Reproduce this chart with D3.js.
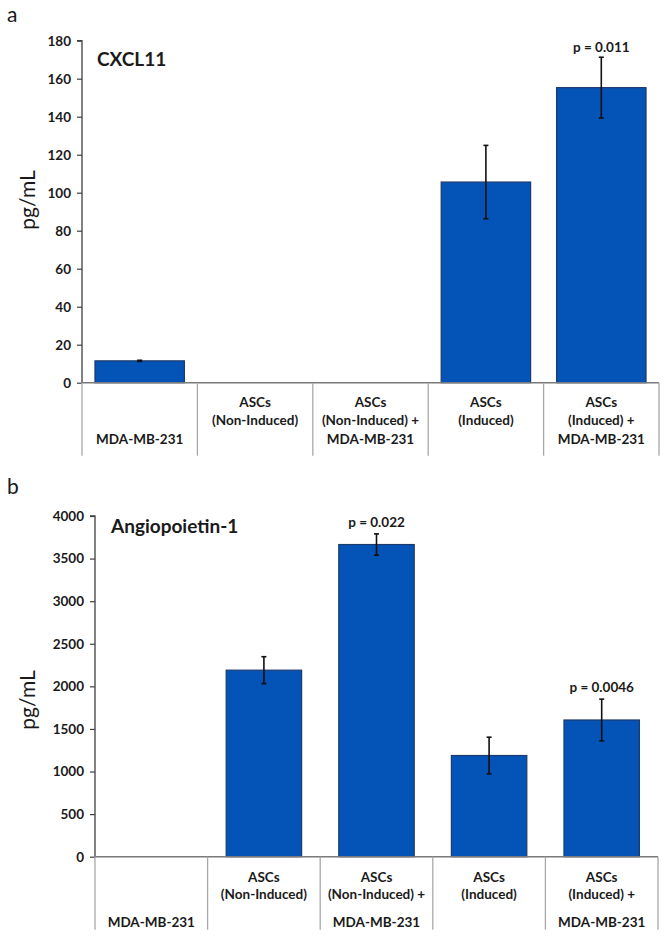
<!DOCTYPE html>
<html>
<head>
<meta charset="utf-8">
<script src="https://cdn.jsdelivr.net/npm/d3@7"></script>
<style>
  html, body { margin: 0; padding: 0; background: #fff; }
  svg { display: block; }
  text { font-family: Lato, "Open Sans", "Liberation Sans", sans-serif; fill: #1a1a1a; }
</style>
</head>
<body>
<svg id="chart" width="666" height="936"></svg>
<script>
// ---- Data ----
const categories = ["MDA-MB-231", "ASCs (Non-Induced)", "ASCs (Non-Induced) + MDA-MB-231", "ASCs (Induced)", "ASCs (Induced) + MDA-MB-231"];
const categoryLines = [
  ["", "", "MDA-MB-231"],
  ["ASCs", "(Non-Induced)", ""],
  ["ASCs", "(Non-Induced) +", "MDA-MB-231"],
  ["ASCs", "(Induced)", ""],
  ["ASCs", "(Induced) +", "MDA-MB-231"]
];
const cxcl11Values = [11.5, 0, 0, 105.6, 155.3];
const cxcl11Errors = [0.3, 0, 0, 19.3, 16];
const cxcl11PValues = ["", "", "", "", "p = 0.011"];
const cxcl11Ticks = [0, 20, 40, 60, 80, 100, 120, 140, 160, 180];

const angValues = [0, 2190, 3665, 1188, 1605];
const angErrors = [0, 158, 125, 215, 245];
const angPValues = ["", "", "p = 0.022", "", "p = 0.0046"];
const angTicks = [0, 500, 1000, 1500, 2000, 2500, 3000, 3500, 4000];

const svg = d3.select("#chart");
const barFill = "#0453b6";
const barStroke = "#1c3a6b";
const FS = 13.5;

function drawPanel(cfg) {
  const g = svg.append("g");
  const x = d3.scaleBand().domain(categories).range([cfg.left, cfg.right]).paddingInner(0).paddingOuter(0);
  const y = d3.scaleLinear().domain([0, cfg.max]).range([cfg.bottom, cfg.top]);
  const bw = x.bandwidth() * cfg.barRatio;

  // panel letter
  g.append("text").attr("x", 7).attr("y", cfg.letterY).attr("font-size", 21).text(cfg.letter);

  // bars
  const data = categories.map((c, i) => ({c, v: cfg.values[i], e: cfg.errors[i], p: cfg.pvals[i]}));
  g.selectAll("rect.bar").data(data.filter(d => d.v > 0)).join("rect")
    .attr("class", "bar")
    .attr("x", d => x(d.c) + (x.bandwidth() - bw) / 2)
    .attr("y", d => y(d.v))
    .attr("width", bw)
    .attr("height", d => y(0) - y(d.v))
    .attr("fill", barFill).attr("stroke", barStroke).attr("stroke-width", 1.2);

  // error bars
  const eb = g.selectAll("g.err").data(data.filter(d => d.v > 0)).join("g").attr("class", "err");
  eb.append("line")
    .attr("x1", d => x(d.c) + x.bandwidth() / 2).attr("x2", d => x(d.c) + x.bandwidth() / 2)
    .attr("y1", d => y(d.v + d.e)).attr("y2", d => y(d.v - d.e))
    .attr("stroke", "#111").attr("stroke-width", 1.6);
  eb.append("line")
    .attr("x1", d => x(d.c) + x.bandwidth() / 2 - 2.5).attr("x2", d => x(d.c) + x.bandwidth() / 2 + 2.5)
    .attr("y1", d => y(d.v + d.e)).attr("y2", d => y(d.v + d.e))
    .attr("stroke", "#111").attr("stroke-width", 1.6);
  eb.append("line")
    .attr("x1", d => x(d.c) + x.bandwidth() / 2 - 2.5).attr("x2", d => x(d.c) + x.bandwidth() / 2 + 2.5)
    .attr("y1", d => y(d.v - d.e)).attr("y2", d => y(d.v - d.e))
    .attr("stroke", "#111").attr("stroke-width", 1.6);

  // p-values
  g.selectAll("text.p").data(data.filter(d => d.p)).join("text")
    .attr("class", "p")
    .attr("x", d => x(d.c) + x.bandwidth() / 2)
    .attr("y", d => y(d.v + d.e) - cfg.pOffset)
    .attr("text-anchor", "middle").attr("font-size", FS).attr("font-weight", "bold")
    .text(d => d.p);

  // y axis
  const yAxis = d3.axisLeft(y).tickValues(cfg.ticks).tickSize(5).tickPadding(6).tickFormat(d3.format("d"));
  const ya = g.append("g").attr("transform", `translate(${cfg.left},0)`).call(yAxis);
  ya.select(".domain").attr("stroke", "#404040").attr("stroke-width", 1.3).attr("d", `M-5,${cfg.top}H0V${cfg.bottom}`);
  ya.selectAll(".tick line").attr("stroke", "#404040").attr("stroke-width", 1.2);
  ya.selectAll(".tick text").attr("font-size", FS).attr("font-weight", "bold")
    .attr("font-family", "Lato, sans-serif").attr("fill", "#1a1a1a");

  // x baseline + category dividers
  g.append("line").attr("x1", cfg.left).attr("x2", cfg.right).attr("y1", y(0)).attr("y2", y(0))
    .attr("stroke", "#7a7a7a").attr("stroke-width", 1.5);
  const bounds = categories.map(c => x(c)).concat([cfg.right]);
  g.selectAll("line.div").data(bounds).join("line").attr("class", "div")
    .attr("x1", d => d).attr("x2", d => d)
    .attr("y1", y(0)).attr("y2", y(0) + cfg.dividerLen)
    .attr("stroke", "#a8a8a8").attr("stroke-width", 1.3);

  // category labels
  categories.forEach((c, i) => {
    categoryLines[i].forEach((t, j) => {
      if (!t) return;
      g.append("text")
        .attr("x", x(c) + x.bandwidth() / 2)
        .attr("y", y(0) + cfg.labelOffsets[j])
        .attr("text-anchor", "middle").attr("font-size", FS).attr("font-weight", "bold")
        .text(t);
    });
  });

  // title
  g.append("text").attr("x", cfg.titleX).attr("y", cfg.titleY)
    .attr("font-size", 19).attr("font-weight", "bold").text(cfg.title);

  // y-axis label
  g.append("text")
    .attr("transform", `translate(${cfg.ylabelX},${cfg.ylabelY}) rotate(-90)`)
    .attr("text-anchor", "middle").attr("font-size", 21).text("pg/mL");
}

drawPanel({
  letter: "a", letterY: 22,
  left: 82, right: 659, top: 40.7, bottom: 382.7, max: 180,
  ticks: cxcl11Ticks, values: cxcl11Values, errors: cxcl11Errors, pvals: cxcl11PValues,
  barRatio: 0.775, dividerLen: 73, labelOffsets: [24, 42, 61], pOffset: 5,
  title: "CXCL11", titleX: 97, titleY: 66,
  ylabelX: 35, ylabelY: 200
});

drawPanel({
  letter: "b", letterY: 494,
  left: 95, right: 658, top: 516, bottom: 856.7, max: 4000,
  ticks: angTicks, values: angValues, errors: angErrors, pvals: angPValues,
  barRatio: 0.67, dividerLen: 73, labelOffsets: [25, 42, 70], pOffset: 7,
  title: "Angiopoietin-1", titleX: 111, titleY: 533,
  ylabelX: 35, ylabelY: 700
});
</script>
</body>
</html>
